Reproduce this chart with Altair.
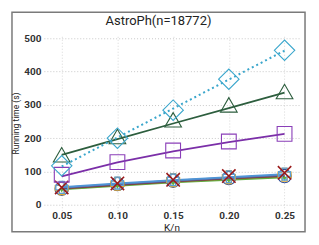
import altair as alt
import pandas as pd

k_values = [0.05, 0.10, 0.15, 0.20, 0.25]

# marker values (measured points)
diamond_pts = [117, 200, 284, 377, 464]
triangle_pts = [150, 205, 255, 300, 340]
square_pts = [90, 128, 163, 190, 213]
circle_pts = [48, 62, 72, 80, 86]
orange_plus_pts = [50, 63, 74, 83, 90]
blue_plus_pts = [52, 65, 75, 84, 92]
green_tri_pts = [43, 53, 63, 71, 78]
red_x_pts = [52, 64, 75, 86, 96]

# line values (fitted trends)
diamond_line = [115, 202, 289, 376, 463]
triangle_line = [150, 197, 244, 290, 337]
square_line = [85, 127, 160, 188, 213]
blue_line = [53, 64, 74, 83, 92]
navy_line = [51, 62, 72, 81, 89]
red_line = [49, 60, 70, 79, 87]
olive_line = [48, 59, 69, 78, 85]
green_line = [46, 57, 67, 75, 82]

title_text = "AstroPh(n=18772)"

# the view is the framed figure; the data area is inset through the scale ranges
xs = alt.Scale(domain=[0.034, 0.263], nice=False, zero=False, range=[32, 288])
ys = alt.Scale(domain=[-9, 524], nice=False, zero=False, range=[196, 18])

def df(vals):
    return pd.DataFrame({"k": k_values, "t": vals})

X = alt.X("k:Q", scale=xs,
          axis=alt.Axis(values=k_values, format=".2f", title="K/n", grid=True, offset=-24,
                        gridDash=[1, 2], gridColor="#d8d8d8", domain=False, ticks=False,
                        labelPadding=3, titlePadding=2))
Y = alt.Y("t:Q", scale=ys,
          axis=alt.Axis(values=[0, 100, 200, 300, 400, 500], title="Running time (s)", grid=True,
                        offset=-32, gridDash=[1, 2], gridColor="#c8c8c8", domain=False, ticks=False,
                        labelPadding=3, titleX=-28, titleY=111, titleAngle=270,
                        titleAlign="center", titleBaseline="middle"))

def line(vals, color, dash=None, width=1.8):
    kw = dict(color=color, strokeWidth=width, clip=True)
    if dash:
        kw["strokeDash"] = dash
    return alt.Chart(df(vals)).mark_line(**kw).encode(x=X, y=Y)

def pts(vals, color, shape, size, filled=False, sw=1.1):
    return alt.Chart(df(vals)).mark_point(shape=shape, size=size, filled=filled,
                                          color=color, strokeWidth=sw, opacity=1).encode(x=X, y=Y)

one = pd.DataFrame({"a": [0]})
title = alt.Chart(one).mark_text(
    text=title_text, font="Roboto", fontSize=13, color="#222", align="center",
    baseline="middle").encode(x=alt.value(147), y=alt.value(9))

xpath = "M-1,-1L1,1M-1,1L1,-1"

layers = [
    line(green_line, "#5db040"),
    line(olive_line, "#8a8a3a"),
    line(red_line, "#7a2b3a"),
    line(navy_line, "#5a6ea8"),
    line(blue_line, "#4f95d6"),
    pts(green_tri_pts, "#5db040", "triangle-down", 22, filled=True),
    pts(circle_pts, "#2f4f9a", "circle", 180),
    pts(orange_plus_pts, "#e0a830", "cross", 170, sw=1.2),
    pts(blue_plus_pts, "#5aa0d8", "cross", 140, sw=1.3),
    pts(red_x_pts, "#9a1a1a", xpath, 180, sw=1.6),
    line(square_line, "#7b2fa8"),
    pts(square_pts, "#8a3fb8", "square", 220),
    line(triangle_line, "#2d5e3e"),
    pts(triangle_pts, "#2d5e3e", "triangle-up", 280),
    line(diamond_line, "#3aa6cc", dash=[2, 3], width=2),
    pts(diamond_pts, "#3aa6cc", "diamond", 420),
    title,
]

chart = alt.layer(*layers).properties(
    width=294, height=220,
    autosize=alt.AutoSizeParams(type="none"),
    padding={"left": 4, "top": 4, "right": 6, "bottom": 6},
).configure_view(stroke="#7a7a7a", strokeWidth=1.5).configure_axis(
    labelFont="Roboto", labelFontSize=10, labelColor="#333", labelFontWeight="bold",
    titleFont="Roboto", titleFontWeight="normal", titleColor="#222",
).configure_axisY(titleFontSize=8.5).configure_axisX(titleFontSize=10)

chart.save("out.html", embed_options={"renderer": "svg", "actions": False})
